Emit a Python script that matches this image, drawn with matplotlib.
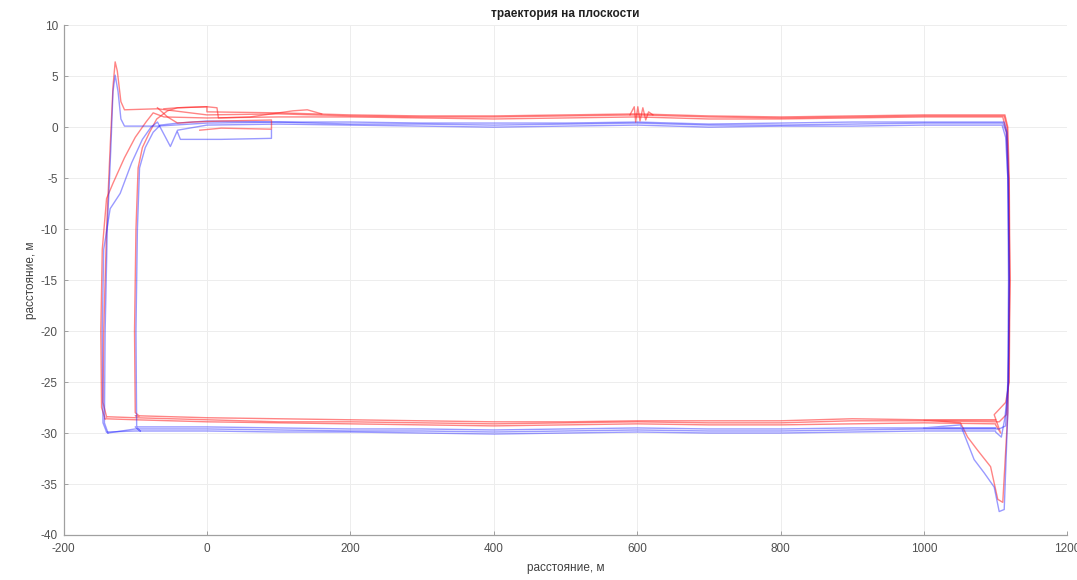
import matplotlib
matplotlib.use('Agg')
import matplotlib.pyplot as plt

# ---- data (metres) ----
# stations along the straight runs
top_x = [0, 100, 200, 300, 400, 500, 600, 700, 800, 900, 1000, 1100]
bottom_x = [1100, 1000, 900, 800, 700, 600, 500, 400, 300, 200, 100, 0, -100]

# red laps
red_lap1_entry_x = [-140, -145, -144, -140, -135, -131, -128, -125, -120, -115, -69]
red_lap1_entry_y = [-28.4, -27.0, -20.0, -10.0, -2.0, 4.0, 6.4, 5.5, 2.5, 1.7, 1.8]
red_lap1_top_y = [1.2, 1.3, 1.1, 1.0, 1.0, 1.1, 1.2, 1.0, 0.9, 1.0, 1.1, 1.1]
red_lap1_right_x = [1112, 1116, 1118, 1119, 1118, 1115, 1105]
red_lap1_right_y = [1.1, 0.0, -5.0, -15.0, -25.0, -28.2, -28.9]
red_lap1_bottom_y = [-28.9, -28.8, -28.8, -29.0, -29.0, -28.9, -29.0, -29.1, -29.0, -28.9, -28.9, -28.7, -28.5]

red_lap2_entry_x = [-142, -147, -148, -146, -140, -131, -115, -100, -85, -75, -60]
red_lap2_entry_y = [-28.6, -27.5, -20.0, -12.0, -7.0, -5.5, -3.0, -1.0, 0.5, 1.4, 1.0]
red_lap2_top_y = [0.9, 1.0, 1.0, 0.9, 0.8, 0.9, 1.0, 0.8, 0.8, 0.9, 1.0, 1.0]
red_lap2_right_x = [1110, 1115, 1118, 1120, 1119, 1114, 1098, 1107, 1100]
red_lap2_right_y = [1.0, -0.5, -5.0, -15.0, -25.0, -27.0, -28.2, -30.0, -29.2]
red_lap2_bottom_y = [-29.1, -29.0, -29.1, -29.2, -29.2, -29.1, -29.2, -29.3, -29.2, -29.1, -29.0, -28.9, -28.7]

red_lap3_entry_x = [-95, -100, -101, -99, -96, -90, -80, -70, -55, -41, 0]
red_lap3_entry_y = [-28.3, -28.0, -20.0, -10.0, -4.0, -2.0, -0.5, 0.8, 1.6, 1.9, 2.0]
red_lap3_top_y = [1.5, 1.4, 1.2, 1.1, 1.1, 1.2, 1.3, 1.1, 1.0, 1.1, 1.2, 1.2]
red_lap3_right_x = [1113, 1117, 1119, 1120, 1117, 1110, 1103, 1093, 1075, 1061, 1051, 1000]
red_lap3_right_y = [1.2, 0.0, -5.0, -15.0, -28.0, -36.8, -36.5, -33.3, -31.7, -30.4, -29.0, -28.7]
red_lap3_bottom_y = [-28.7, -28.7, -28.6, -28.8, -28.8, -28.8, -28.9, -28.9, -28.8, -28.7, -28.6, -28.5, -28.3]

# blue laps
blue_lap1_entry_x = [-138, -143, -142, -139, -134, -131, -128, -124, -120, -115, -69]
blue_lap1_entry_y = [-30.0, -29.0, -20.0, -10.0, -2.0, 3.5, 5.1, 3.5, 0.8, 0.1, 0.1]
blue_lap1_top_y = [0.4, 0.5, 0.3, 0.3, 0.2, 0.3, 0.4, 0.2, 0.2, 0.3, 0.4, 0.4]
blue_lap1_right_x = [1110, 1115, 1117, 1118, 1117, 1114, 1105]
blue_lap1_right_y = [0.4, -0.5, -5.0, -15.0, -25.0, -29.3, -29.6]
blue_lap1_bottom_y = [-29.6, -29.6, -29.7, -29.8, -29.8, -29.7, -29.8, -29.9, -29.8, -29.8, -29.7, -29.6, -29.6]

blue_lap2_entry_x = [-140, -145, -146, -144, -135, -121, -105, -90, -78, -69, -51, -41]
blue_lap2_entry_y = [-29.9, -29.0, -20.0, -12.0, -8.0, -6.5, -3.5, -1.2, 0.0, 0.5, -1.9, -0.3]
blue_lap2_top_y = [0.2, 0.3, 0.2, 0.1, 0.0, 0.1, 0.2, 0.0, 0.1, 0.1, 0.2, 0.2]
blue_lap2_right_x = [1109, 1114, 1117, 1119, 1118, 1113, 1108, 1100]
blue_lap2_right_y = [0.2, -1.0, -5.0, -15.0, -25.0, -28.5, -30.4, -29.9]
blue_lap2_bottom_y = [-29.8, -29.8, -29.9, -30.0, -30.0, -29.9, -30.0, -30.1, -30.0, -29.9, -29.9, -29.8, -29.8]

blue_lap3_entry_x = [-93, -98, -99, -97, -94, -86, -75, -65, -40]
blue_lap3_entry_y = [-29.8, -29.5, -20.0, -10.0, -4.0, -2.0, -0.5, 0.2, 0.4]
blue_lap3_top_y = [0.6, 0.5, 0.5, 0.4, 0.4, 0.4, 0.5, 0.3, 0.4, 0.5, 0.5, 0.5]
blue_lap3_right_x = [1112, 1116, 1118, 1119, 1117, 1112, 1105, 1098, 1084, 1070, 1051, 1000]
blue_lap3_right_y = [0.5, -0.5, -5.0, -15.0, -28.0, -37.5, -37.7, -35.3, -33.9, -32.6, -29.2, -29.5]
blue_lap3_bottom_y = [-29.5, -29.5, -29.5, -29.6, -29.6, -29.5, -29.6, -29.7, -29.6, -29.6, -29.5, -29.4, -29.4]

# start / finish pieces near x = 0..90
red_start_x = [-69, -55, -41, -20, 20, 90, 90, 20, -10]
red_start_y = [1.9, 1.0, 0.4, 0.5, 0.6, 0.7, -0.2, -0.1, -0.3]
red_box_x = [-60, -41, 0, 14, 16, 60, 120, 140, 160]
red_box_y = [1.8, 1.9, 2.0, 1.9, 0.9, 1.0, 1.6, 1.7, 1.3]
red_spike_x = [590, 596, 598, 601, 604, 608, 612, 616, 622]
red_spike_y = [1.2, 2.0, 0.5, 2.0, 0.6, 1.9, 0.7, 1.5, 1.2]
blue_start_x = [-41, -37, 20, 90, 90]
blue_start_y = [-0.5, -1.2, -1.2, -1.1, -0.3]


def lap(entry_x, entry_y, top_y, right_x, right_y, bottom_y):
    """chain the pieces of one lap into a closed path"""
    xs = entry_x + top_x + right_x + bottom_x + entry_x[:1]
    ys = entry_y + top_y + right_y + bottom_y + entry_y[:1]
    return xs, ys


red_laps = [
    lap(red_lap1_entry_x, red_lap1_entry_y, red_lap1_top_y, red_lap1_right_x, red_lap1_right_y, red_lap1_bottom_y),
    lap(red_lap2_entry_x, red_lap2_entry_y, red_lap2_top_y, red_lap2_right_x, red_lap2_right_y, red_lap2_bottom_y),
    lap(red_lap3_entry_x, red_lap3_entry_y, red_lap3_top_y, red_lap3_right_x, red_lap3_right_y, red_lap3_bottom_y),
]
blue_laps = [
    lap(blue_lap1_entry_x, blue_lap1_entry_y, blue_lap1_top_y, blue_lap1_right_x, blue_lap1_right_y, blue_lap1_bottom_y),
    lap(blue_lap2_entry_x, blue_lap2_entry_y, blue_lap2_top_y, blue_lap2_right_x, blue_lap2_right_y, blue_lap2_bottom_y),
    lap(blue_lap3_entry_x, blue_lap3_entry_y, blue_lap3_top_y, blue_lap3_right_x, blue_lap3_right_y, blue_lap3_bottom_y),
]

plt.rcParams['font.family'] = ['Liberation Sans', 'DejaVu Sans']
plt.rcParams['axes.unicode_minus'] = False

fig = plt.figure(figsize=(10.77, 5.8), dpi=100)
ax = fig.add_axes([0.059, 0.0776, 0.932, 0.879])

red = '#ff2020'
blue = '#2020ff'
for xs, ys in red_laps:
    ax.plot(xs, ys, color=red, lw=1.0, alpha=0.55)
for xs, ys in blue_laps:
    ax.plot(xs, ys, color=blue, lw=1.0, alpha=0.45)
ax.plot(red_start_x, red_start_y, color=red, lw=1.0, alpha=0.55)
ax.plot(red_box_x, red_box_y, color=red, lw=1.0, alpha=0.55)
ax.plot(red_spike_x, red_spike_y, color=red, lw=1.0, alpha=0.55)
ax.plot(blue_start_x, blue_start_y, color=blue, lw=1.0, alpha=0.45)

ax.set_xlim(-200, 1200)
ax.set_ylim(-40, 10)
ax.set_xticks(range(-200, 1201, 200))
ax.set_yticks(range(-40, 11, 5))
ax.grid(True, color='#ededed', lw=0.7)
ax.set_axisbelow(True)
for side in ['top', 'right']:
    ax.spines[side].set_visible(False)
for side in ['left', 'bottom']:
    ax.spines[side].set_color('#a0a0a0')
    ax.spines[side].set_linewidth(0.9)
ax.tick_params(direction='in', length=3, width=0.7, color='#a0a0a0',
               labelsize=8.5, labelcolor='#505050')
ax.tick_params(axis='x', pad=6)
ax.tick_params(axis='y', pad=4)

ax.set_title('траектория на плоскости', fontsize=8.5, fontweight='bold', color='#202020', pad=6)
ax.set_xlabel('расстояние, м', fontsize=8.5, color='#404040', labelpad=5)
ax.set_ylabel('расстояние, м', fontsize=8.5, color='#404040', labelpad=3)

fig.savefig('out.png', dpi=100)
